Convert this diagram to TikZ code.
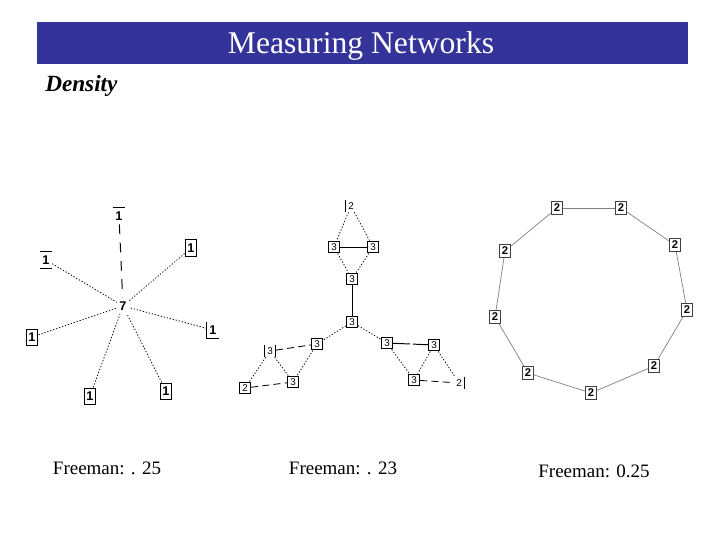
\documentclass[tikz,border=0pt]{standalone}
\usepackage{fontspec}
\setmainfont{Liberation Serif}
\newfontfamily\labfont{Liberation Sans}
\definecolor{hdrblue}{HTML}{333399}
\definecolor{ringgray}{HTML}{808080}
\tikzset{
  starlab/.style={font=\labfont\bfseries\fontsize{9}{9}\selectfont, inner sep=0pt, minimum width=8.5pt, minimum height=11.4pt},
  starbox/.style={starlab, draw, line width=0.7pt},
  midlab/.style={font=\labfont\fontsize{7}{7}\selectfont, inner sep=0pt, minimum width=8pt, minimum height=8.5pt},
  midbox/.style={midlab, draw, line width=0.7pt},
  ringbox/.style={font=\labfont\bfseries\fontsize{8}{8}\selectfont, inner sep=0pt, minimum width=8pt, minimum height=9.5pt, draw=black!75, line width=0.7pt},
  dotline/.style={line width=0.55pt, dash pattern=on 0.9pt off 1.3pt},
  longdash/.style={line width=0.7pt, dash pattern=on 7pt off 6pt},
  middash/.style={line width=0.6pt, dash pattern=on 5pt off 3pt},
  ringline/.style={line width=0.5pt, ringgray},
  caption/.style={font=\fontsize{13.5}{16}\selectfont}
}
\begin{document}
\begin{tikzpicture}[x=0.025cm, y=-0.025cm]
\useasboundingbox (0,0) rectangle (720,540);
% header
\fill[hdrblue] (37,22) rectangle (688,64);
\node[text=white, font=\fontsize{22.5}{27}\selectfont] (title) at (361,46) {Measuring Networks};
\node[anchor=west, font=\bfseries\itshape\fontsize{16.5}{20}\selectfont, inner sep=0pt] (dens) at (45,86) {Density};

% ---------- star graph ----------
\node[starlab] (c7) at (123,306) {7};
\node[starlab] (s1) at (119,216) {1};
\node[starlab] (s2) at (46,260) {1};
\node[starbox] (s3) at (191,248) {1};
\node[starlab] (s4) at (213,330) {1};
\node[starbox] (s5) at (32,337) {1};
\node[starbox] (s6) at (90,396) {1};
\node[starbox] (s7) at (166,391) {1};
\draw[line width=0.7pt] (s1.north west) -- (s1.north east);
\draw[line width=0.7pt] (s2.north west) -- (s2.north east);
\draw[line width=0.7pt] (s2.south west) -- (s2.south east);
\draw[line width=0.7pt] (s4.north west) -- (s4.south west) -- (s4.south east);
\draw[longdash] (s1) -- (c7);
\draw[dotline] (s2) -- (c7);
\draw[dotline] (s3) -- (c7);
\draw[dotline] (s4) -- (c7);
\draw[dotline] (s5) -- (c7);
\draw[dotline] (s6) -- (c7);
\draw[dotline] (s7) -- (c7);

% ---------- middle graph ----------
\node[midlab] (m1) at (351,206) {2};
\draw[line width=0.7pt] (m1.north west) -- (m1.south west);
\node[midbox] (m2) at (334,247) {3};
\node[midbox] (m3) at (373,247) {3};
\node[midbox] (m4) at (352,279) {3};
\node[midbox] (m5) at (352,322) {3};
\node[midbox] (m6) at (317,344) {3};
\node[midlab] (m7) at (270,351) {3};
\draw[line width=0.7pt] (m7.north west) -- (m7.south west);
\draw[line width=0.7pt] (m7.north east) -- (m7.south east);
\node[midbox] (m8) at (293,382) {3};
\node[midbox] (m9) at (245,388) {2};
\node[midbox] (m10) at (387,343) {3};
\node[midbox] (m11) at (434,345) {3};
\node[midbox] (m12) at (414,380) {3};
\node[midlab] (m13) at (459,383) {2};
\draw[line width=0.7pt] (m13.north east) -- (m13.south east);
\draw[dotline] (m1) -- (m2);
\draw[dotline] (m1) -- (m3);
\draw[line width=0.7pt] (m2) -- (m3);
\draw[dotline] (m2) -- (m4);
\draw[dotline] (m3) -- (m4);
\draw[line width=0.7pt] (m4) -- (m5);
\draw[dotline] (m5) -- (m6);
\draw[dotline] (m5) -- (m10);
\draw[middash] (m7) -- (m6);
\draw[dotline] (m6) -- (m8);
\draw[dotline] (m7) -- (m8);
\draw[dotline] (m7) -- (m9);
\draw[middash] (m9) -- (m8);
\draw[line width=0.7pt, dash pattern=on 12pt off 2pt] (m10) -- (m11);
\draw[dotline] (m10) -- (m12);
\draw[dotline] (m11) -- (m12);
\draw[dotline] (m11) -- (m13);
\draw[middash] (m12) -- (m13);

% ---------- ring graph ----------
\node[ringbox] (r1) at (557,208) {2};
\node[ringbox] (r2) at (621,208) {2};
\node[ringbox] (r3) at (675,245) {2};
\node[ringbox] (r4) at (687,310) {2};
\node[ringbox] (r5) at (654,366) {2};
\node[ringbox] (r6) at (591,393) {2};
\node[ringbox] (r7) at (528,373) {2};
\node[ringbox] (r8) at (495,317) {2};
\node[ringbox] (r9) at (505,251) {2};
\draw[ringline] (r1) -- (r2);
\draw[ringline] (r2) -- (r3);
\draw[ringline] (r3) -- (r4);
\draw[ringline] (r4) -- (r5);
\draw[ringline] (r5) -- (r6);
\draw[ringline] (r6) -- (r7);
\draw[ringline] (r7) -- (r8);
\draw[ringline] (r8) -- (r9);
\draw[ringline] (r9) -- (r1);

% captions
\node[caption] (f1) at (107,468) {Freeman: . 25};
\node[caption] (f2) at (343,468) {Freeman: . 23};
\node[caption] (f3) at (594,471) {Freeman: 0.25};
\end{tikzpicture}
\end{document}
